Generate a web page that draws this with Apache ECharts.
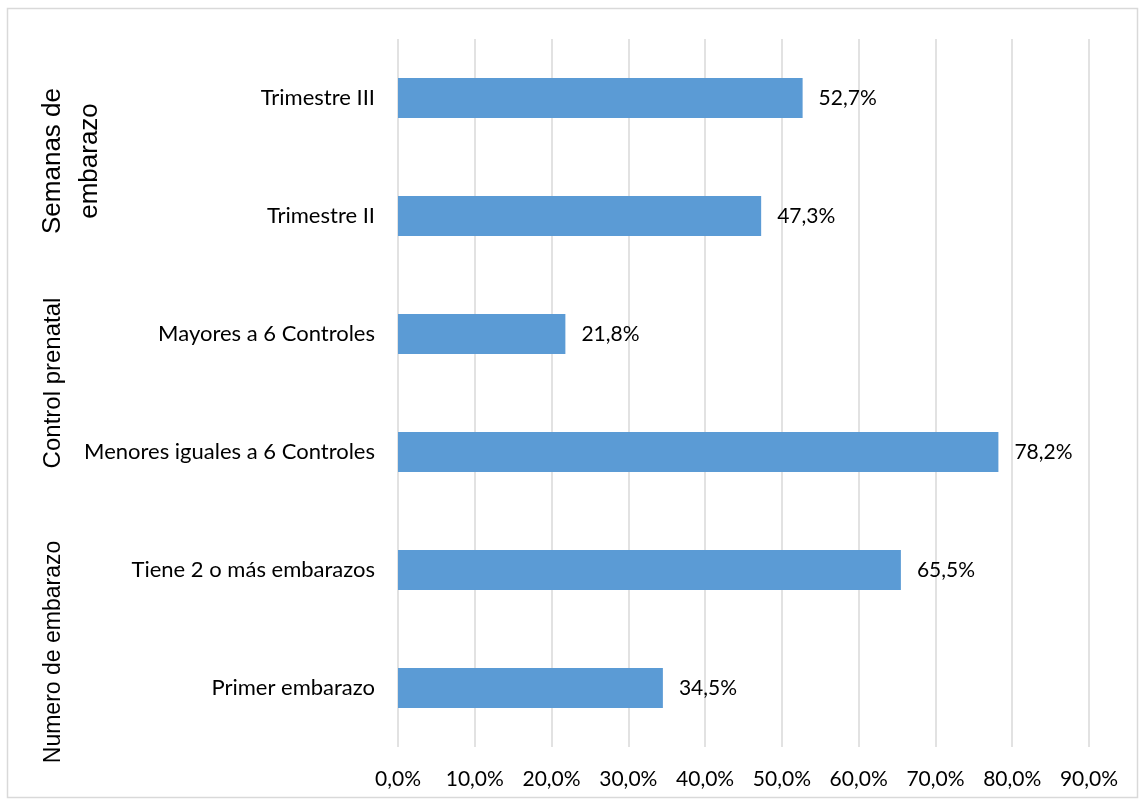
<!DOCTYPE html>
<html>
<head>
<meta charset="utf-8">
<script src="https://cdn.jsdelivr.net/npm/echarts@6/dist/echarts.min.js"></script>
<style>
  html, body { margin: 0; padding: 0; background: #fff; }
  #chart { width: 1145px; height: 805px; }
</style>
</head>
<body>
<div id="chart"></div>
<script>
// Categories listed bottom to top (category axis runs upward)
const categories = [
  'Primer embarazo',
  'Tiene 2 o más embarazos',
  'Menores iguales a 6 Controles',
  'Mayores a 6 Controles',
  'Trimestre II',
  'Trimestre III'
];
const percentages = [34.5, 65.5, 78.2, 21.8, 47.3, 52.7];
const groupLabels = ['Numero de embarazo', 'Control prenatal', 'Semanas de\nembarazo'];

const fmt = v => v.toFixed(1).replace('.', ',') + '%';

const chart = echarts.init(document.getElementById('chart'));
chart.setOption({
  animation: false,
  backgroundColor: '#fff',
  grid: { left: 398, right: 56, top: 39, bottom: 58, containLabel: false },
  xAxis: {
    type: 'value',
    min: 0, max: 90, interval: 10,
    axisLine: { show: false },
    axisTick: { show: false },
    splitLine: { show: true, lineStyle: { color: '#d9d9d9', width: 1.5 } },
    axisLabel: {
      formatter: v => fmt(v),
      color: '#000', fontFamily: 'Lato', fontSize: 21, margin: 22
    }
  },
  yAxis: {
    type: 'category',
    data: categories,
    axisLine: { show: false },
    axisTick: { show: false },
    axisLabel: { color: '#000', fontFamily: 'Lato', fontSize: 22, margin: 23 }
  },
  series: [{
    type: 'bar',
    data: percentages,
    barWidth: 40,
    itemStyle: { color: '#5b9bd5' },
    label: {
      show: true, position: 'right', distance: 16,
      formatter: p => fmt(p.value),
      color: '#000', fontFamily: 'Lato', fontSize: 21
    }
  }],
  graphic: [
    {
      type: 'rect', silent: true,
      shape: { x: 7.5, y: 8.5, width: 1130, height: 789 },
      style: { fill: null, stroke: '#d9d9d9', lineWidth: 1.5 }
    },
    {
      type: 'text', x: 54, y: 652, rotation: Math.PI / 2,
      style: { text: groupLabels[0], fontFamily: 'Liberation Sans', fontSize: 23, fill: '#000',
               align: 'center', verticalAlign: 'middle' }
    },
    {
      type: 'text', x: 53, y: 383, rotation: Math.PI / 2,
      style: { text: groupLabels[1], fontFamily: 'Liberation Sans', fontSize: 24, fill: '#000',
               align: 'center', verticalAlign: 'middle' }
    },
    {
      type: 'text', x: 71.5, y: 161, rotation: Math.PI / 2,
      style: { text: groupLabels[2], fontFamily: 'Liberation Sans', fontSize: 26, fill: '#000',
               align: 'center', verticalAlign: 'middle', lineHeight: 37 }
    }
  ]
});
</script>
</body>
</html>
